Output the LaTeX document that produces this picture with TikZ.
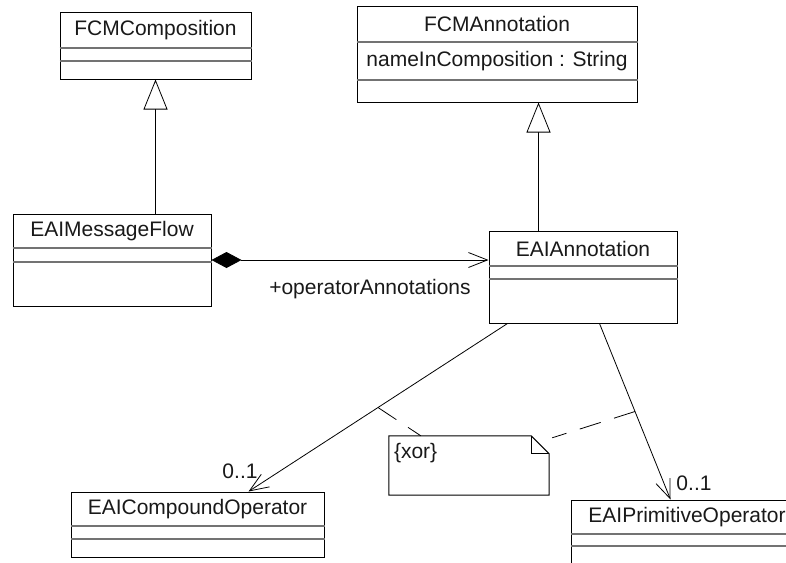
\documentclass[tikz,border=0pt]{standalone}
\usepackage{fontspec}
\setmainfont{Liberation Sans}
\usetikzlibrary{arrows.meta}

\begin{document}
\begin{tikzpicture}[x = 1pt, y = -1pt,
    classbox/.style = {draw = black, line width = 1pt, inner sep = 0pt},
    classname/.style = {inner sep = 0pt, font = \fontsize{21}{24}\selectfont, text = black!90},
    sepline/.style = {draw = black!55, line width = 1.4pt},
    genline/.style = {-{Triangle[length = 30pt, width = 24pt, fill = white, line width = 0.8pt]}, line width = 0.8pt},
    compline/.style = {{Diamond[length = 30pt, width = 16pt]}-{Straight Barb[length = 19pt, width = 15pt]}, line width = 0.8pt},
    assoc/.style = {-{Straight Barb[length = 19pt, width = 15pt]}, line width = 0.8pt},
    notebox/.style = {inner sep = 0pt, minimum width = 160pt, minimum height = 59pt},
    xorline/.style = {line width = 0.8pt, dash pattern = on 22pt off 14pt}]
        \useasboundingbox (0, 0) rectangle (786, 562);
        \clip (0, 0) rectangle (786, 562);

        \foreach \nm/\xa/\ya/\xb/\yb/\la/\lb/\txt in {fcmcomp/60/12/251/79/48/61/FCMComposition,
            msgflow/13/214/211/306/248/262/EAIMessageFlow,
            fcmann/357/6/637/102/42/80/FCMAnnotation,
            eaiann/489/231/677/323/266/279/EAIAnnotation,
            compop/71/492/324/557/526/539/EAICompoundOperator,
            primop/571/500/803/600/534/546/EAIPrimitiveOperator} {
          \node [classbox, minimum width = {(\xb - \xa)*1pt}, minimum height = {(\yb - \ya)*1pt}] (\nm) at ({(\xa + \xb)/2}, {(\ya + \yb)/2}) {};
          \node [classname] (\nm-name) at ({(\xa + \xb)/2}, {(\ya + \la)/2}) {\txt};
          \draw [sepline] (\nm.west |- 0,\la) -- (\nm.east |- 0,\la);
          \draw [sepline] (\nm.west |- 0,\lb) -- (\nm.east |- 0,\lb);
        }
        \node [classname] (fcmann-attr) at (497, 61) {nameInComposition : String};

        \draw [genline] (msgflow.north -| fcmcomp.south) -- (fcmcomp.south);
        \coordinate (genfoot) at ([xshift = 50pt]eaiann.north west);
        \draw [genline] (genfoot) -- (genfoot |- fcmann.south);

        \draw [compline] (msgflow.east) -- (msgflow.east -| eaiann.west);
        \node [classname] (rolename) at (370, 289) {+operatorAnnotations};

        \draw [assoc] ([xshift = 19pt]eaiann.south west) -- ([xshift = 178pt]compop.north west) coordinate [pos = 0.5] (xorleft);
        \draw [assoc] ([xshift = 111pt]eaiann.south west) -- ([xshift = 100pt]primop.north west) coordinate [pos = 0.5] (xorright);
        \node [classname] (compmult) at (240, 471) {0..1};
        \node [classname] (primmult) at (694, 483) {0..1};

        \node [notebox] (xornote) at (469, 465.5) {};
        \draw [line width = 1pt] (xornote.north west) -- ([xshift = -18pt]xornote.north east) -- ([yshift = -18pt]xornote.north east) -- (xornote.south east) -- (xornote.south west) -- cycle;
        \draw [line width = 0.8pt] ([xshift = -18pt]xornote.north east) |- ([yshift = -18pt]xornote.north east);
        \node [classname, anchor = west] (xortext) at ([shift = {(5pt, -17pt)}]xornote.north west) {\{xor\}};

        \draw [xorline] (xorleft) -- ([xshift = 32pt]xornote.north west);
        \draw [xorline] (xorright) -- ([shift = {(3pt, -2pt)}]xornote.north east);
      \end{tikzpicture}
\end{document}
